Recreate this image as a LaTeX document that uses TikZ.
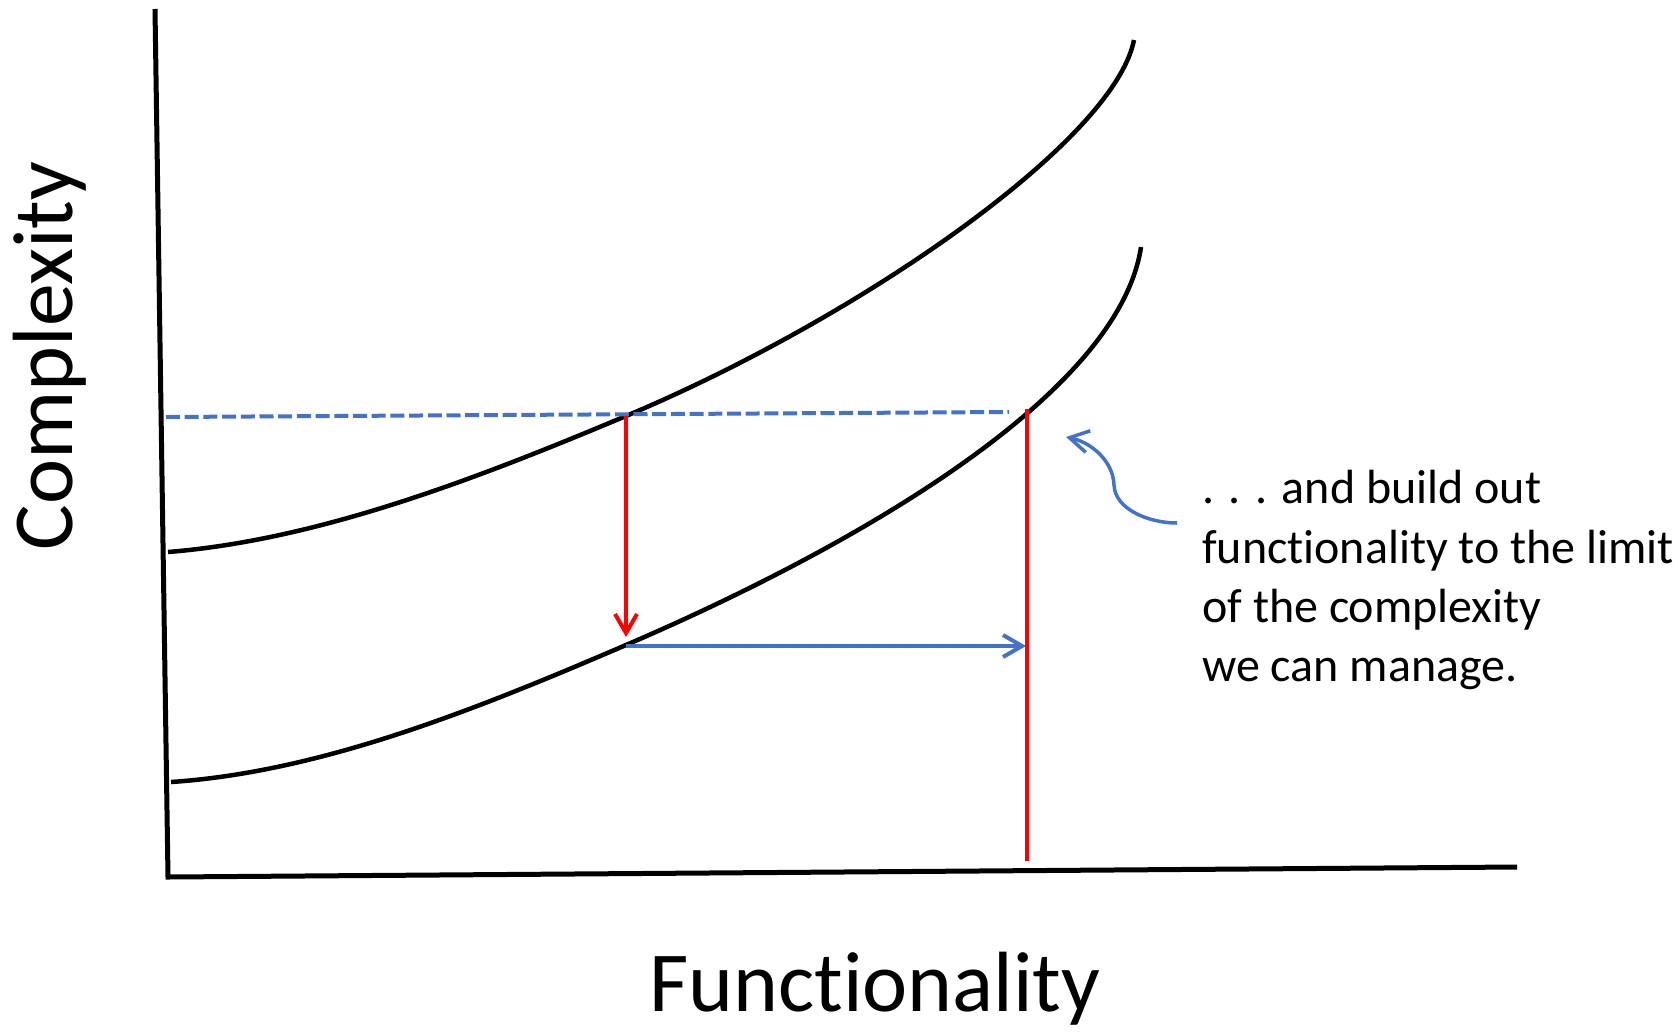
\documentclass[tikz,border=0pt]{standalone}
\usepackage{fontspec}
\setmainfont{Carlito}[Ligatures={NoCommon,NoContextual,NoRequired},Contextuals=NoAlternate]
\usetikzlibrary{arrows.meta}
\definecolor{offblue}{HTML}{4472C4}
\begin{document}
\begin{tikzpicture}[x=1pt,y=-1pt,
  curve/.style={line width=4.5pt, black, line cap=butt},
  axis/.style={line width=5pt, black, line join=miter},
  redline/.style={line width=4pt, red},
  blueline/.style={line width=4pt, offblue},
  barb/.style={-{Straight Barb[length=19pt,width=22pt]}},
  lbl/.style={inner sep=0pt, font=\fontsize{85.5}{100}\selectfont},
  note/.style={inner sep=0pt, anchor=base west, font=\fontsize{48}{58}\selectfont}]
\useasboundingbox (0,0) rectangle (1678,1031);
% axes
\coordinate (ytop) at (155,9);
\coordinate (origin) at (168,877);
\coordinate (xend) at (1517,867);
\draw[axis] (ytop) -- (origin) -- (xend);
% curves
\coordinate (u0) at (168,552);
\coordinate (u1) at (626,416);
\coordinate (u2) at (1134,40);
\draw[curve] (u0) .. controls (318,540) and (476,479) .. (u1) .. controls (859.5,318) and (1114,141) .. (u2);
\coordinate (l0) at (171,782);
\coordinate (l1) at (626,645);
\coordinate (l2) at (1141,247);
\draw[curve] (l0) .. controls (321,772) and (476,709.5) .. (l1) .. controls (845,551) and (1118.4,397.8) .. (l2);
% dashed level line
\coordinate (dl) at (166,417);
\coordinate (dr) at (1009,412);
\draw[blueline, dash pattern=on 14pt off 4.7pt] (dl) -- (dr);
% red arrow down
\coordinate (ra) at (626,416);
\coordinate (rb) at (626,637);
\draw[redline, barb] (ra) -- (rb);
% blue arrow right
\coordinate (ba) at (626,646);
\coordinate (bb) at (1026,646);
\draw[blueline, barb] (ba) -- (bb);
% red vertical
\coordinate (va) at (1027,409);
\coordinate (vb) at (1027,861);
\draw[redline] (va) -- (vb);
% annotation arrow
\coordinate (at) at (1066,437);
\coordinate (am) at (1114,485);
\coordinate (ae) at (1177,523);
\draw[offblue, line width=3.5pt, {Straight Barb[length=19pt,width=22pt]}-] (at) .. controls (1090,442) and (1113,460) .. (am) .. controls (1115,510) and (1150,523) .. (ae);
% labels
\node[lbl, rotate=90, anchor=base] (ylab) at (72,356) {Complexity};
\node[lbl, anchor=base] (xlab) at (875,1011) {Functionality};
\node[note] (t1) at (1202,503) {. . . and build out};
\node[note] (t2) at (1202,563) {functionality to the limit};
\node[note] (t3) at (1202,622) {of the complexity};
\node[note] (t4) at (1202,681) {we can manage.};
\end{tikzpicture}
\end{document}
